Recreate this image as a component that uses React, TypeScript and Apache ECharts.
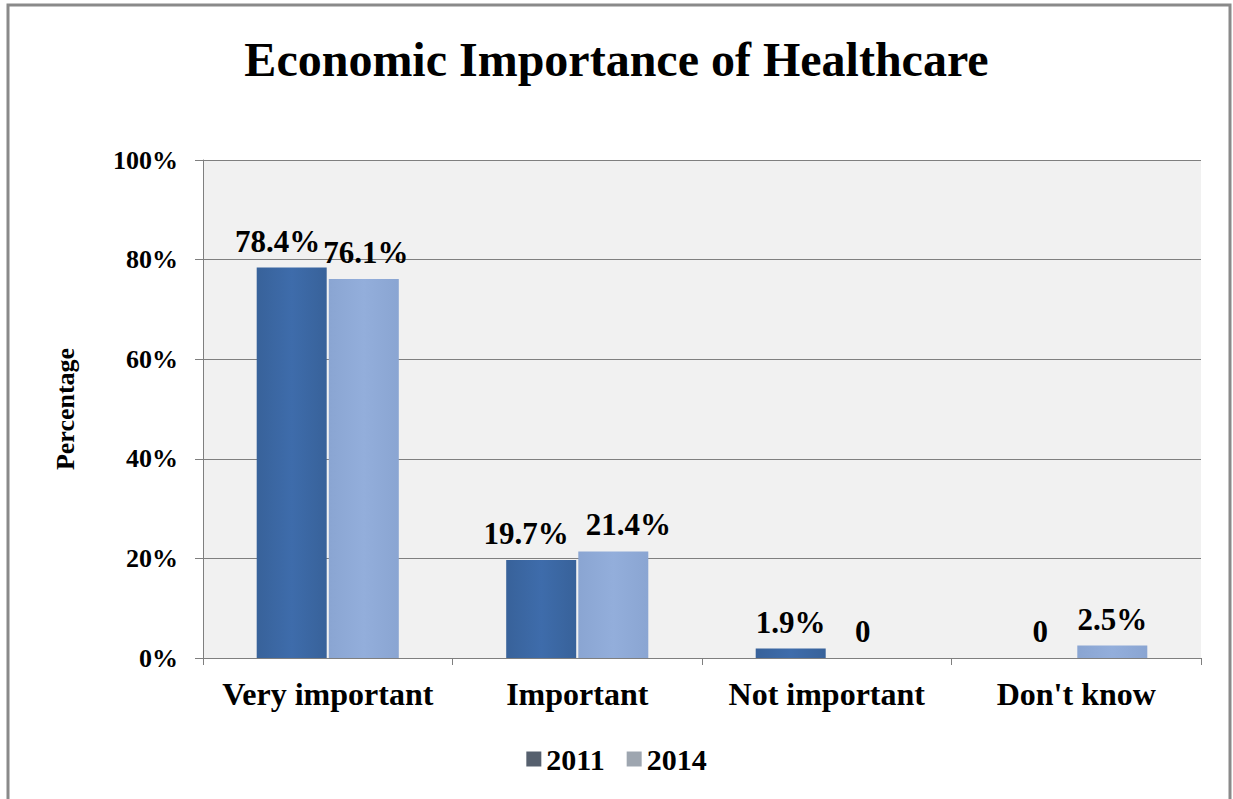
import React, { useEffect, useRef } from "react";
import * as echarts from "echarts";

const categories = ["Very important", "Important", "Not important", "Don't know"];
const values2011 = [78.4, 19.7, 1.9, 0];
const values2014 = [76.1, 21.4, 0, 2.5];
const seriesNames = ["2011", "2014"];
const yTicks = [0, 20, 40, 60, 80, 100];

const FONT = "'Liberation Serif', 'Times New Roman', serif";
const labelOffsets2011 = [[-14, 0], [-15, 0], [0, 0], [0, 0]];
const labelOffsets2014 = [[2, 0], [15, 0], [0, 0], [0, 0]];

function buildData(values: number[], offsets: number[][]) {
  return values.map((v, i) => ({
    value: v,
    label: { offset: offsets[i] },
  }));
}

export default function App() {
  const ref = useRef<HTMLDivElement>(null);
  useEffect(() => {
    if (!ref.current) return;
    const chart = echarts.init(ref.current, undefined, { renderer: "svg" });
    const labelCfg = {
      show: true,
      position: "top",
      distance: 11,
      fontFamily: FONT,
      fontWeight: "bold",
      fontSize: 31,
      color: "#000",
      formatter: (p: any) => (p.value === 0 ? "0" : p.value.toFixed(1) + "%"),
    };
    chart.setOption({
      animation: false,
      backgroundColor: "#ffffff",
      title: {
        text: "Economic Importance of Healthcare",
        left: "center",
        top: 30,
        textStyle: { fontFamily: FONT, fontWeight: "bold", fontSize: 48, color: "#000" },
      },
      graphic: [
        {
          type: "rect",
          shape: { x: 8, y: 5, width: 1222, height: 810 },
          style: { fill: "none", stroke: "#8a8a8a", lineWidth: 3 },
          silent: true,
        },
      ],
      legend: {
        bottom: 20,
        left: "center",
        itemWidth: 15,
        itemHeight: 15,
        itemGap: 22,
        textStyle: { fontFamily: FONT, fontWeight: "bold", fontSize: 30, color: "#000" },
        data: [
          { name: seriesNames[0], icon: "rect", itemStyle: { color: "#56606e" } },
          { name: seriesNames[1], icon: "rect", itemStyle: { color: "#9ea6b0" } },
        ],
      },
      grid: {
        left: 203,
        right: 32,
        top: 160,
        bottom: 141,
        show: true,
        backgroundColor: "#f1f1f1",
        borderWidth: 0,
      },
      xAxis: {
        type: "category",
        data: categories,
        axisLine: { show: true, lineStyle: { color: "#7f7f7f", width: 1 } },
        axisTick: { show: true, length: 7, lineStyle: { color: "#7f7f7f" } },
        axisLabel: {
          interval: 0,
          hideOverlap: false,
          fontFamily: FONT,
          fontWeight: "bold",
          fontSize: 32,
          color: "#000",
          margin: 20,
        },
      },
      yAxis: {
        type: "value",
        min: 0,
        max: 100,
        interval: 20,
        name: "Percentage",
        nameLocation: "middle",
        nameGap: 125,
        nameTextStyle: { fontFamily: FONT, fontWeight: "bold", fontSize: 26, color: "#000" },
        axisLine: { show: true, lineStyle: { color: "#7f7f7f", width: 1 } },
        axisTick: { show: true, length: 8, lineStyle: { color: "#7f7f7f" } },
        axisLabel: {
          fontFamily: FONT,
          fontWeight: "bold",
          fontSize: 26,
          color: "#000",
          margin: 25,
          formatter: (v: number) => (yTicks.includes(v) ? v + "%" : ""),
        },
        splitLine: { show: true, lineStyle: { color: "#7f7f7f", width: 1 } },
      },
      series: [
        {
          name: seriesNames[0],
          type: "bar",
          data: buildData(values2011, labelOffsets2011),
          barWidth: 70,
          barGap: "3%",
          itemStyle: {
            color: new echarts.graphic.LinearGradient(0, 0, 1, 0, [
              { offset: 0, color: "#38629a" },
              { offset: 0.5, color: "#3e6cab" },
              { offset: 1, color: "#38629a" },
            ]),
          },
          label: labelCfg,
        },
        {
          name: seriesNames[1],
          type: "bar",
          data: buildData(values2014, labelOffsets2014),
          barWidth: 70,
          itemStyle: {
            color: new echarts.graphic.LinearGradient(0, 0, 1, 0, [
              { offset: 0, color: "#8aa5d2" },
              { offset: 0.5, color: "#93aedb" },
              { offset: 1, color: "#8aa5d2" },
            ]),
          },
          label: labelCfg,
        },
      ],
    });
    return () => chart.dispose();
  }, []);
  return (
    <div
      ref={ref}
      style={{ position: "fixed", left: 0, top: 0, width: 1233, height: 799 }}
    />
  );
}
